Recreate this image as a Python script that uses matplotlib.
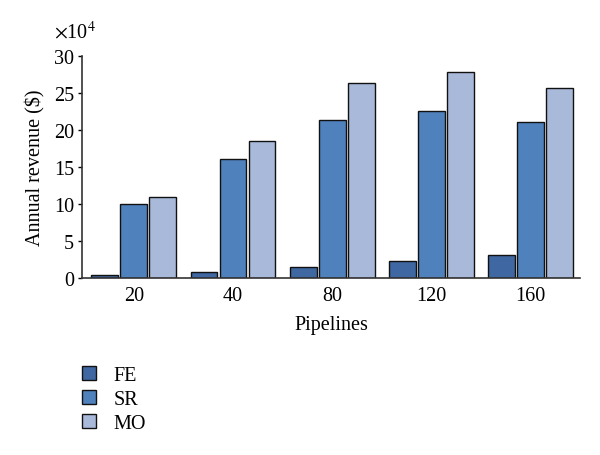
import numpy as np
import matplotlib
matplotlib.use('Agg')
import matplotlib.pyplot as plt
from matplotlib.patches import Patch

# data (x10^4 $)
pipelines = ['20', '40', '80', '120', '160']
fe = [0.4, 0.7, 1.5, 2.2, 3.0]
sr = [10.0, 16.0, 21.4, 22.5, 21.0]
mo = [10.9, 18.5, 26.3, 27.9, 25.7]
series_names = ['FE', 'SR', 'MO']
colors = ['#3f67a1', '#4f81bd', '#a9b9d9']

plt.rcParams['font.family'] = ['Liberation Serif', 'DejaVu Serif']
plt.rcParams['font.size'] = 14.5
plt.rcParams['mathtext.fontset'] = 'stix'

fig = plt.figure(figsize=(6, 4.56), dpi=100)
ax = fig.add_axes([0.137, 0.389, 0.830, 0.486])

x = np.arange(len(pipelines))
w = 0.27
step = 0.293
for i, (vals, c) in enumerate(zip([fe, sr, mo], colors)):
    ax.bar(x + (i - 1) * step, vals, width=w, color=c, edgecolor='#111111', linewidth=1.0)

ax.set_xlim(-0.52, 4.5)
ax.set_ylim(0, 30)
ax.set_yticks(range(0, 31, 5))
ax.set_xticks(x)
ax.set_xticklabels(pipelines)
ax.tick_params(axis='x', length=0, pad=6)
ax.tick_params(axis='y', length=3, width=1, direction='out', pad=3)
for s in ['top', 'right']:
    ax.spines[s].set_visible(False)
for s in ['left', 'bottom']:
    ax.spines[s].set_color('#333333')
    ax.spines[s].set_linewidth(1.2)

ax.set_ylabel('Annual revenue ($)', labelpad=6)
ax.set_xlabel('Pipelines', labelpad=7)
fig.text(0.09, 0.905, r'$\times$10$^4$', fontsize=14.5, ha='left', va='bottom')

handles = [Patch(facecolor=c, edgecolor='#111111', label=n) for n, c in zip(series_names, colors)]
fig.legend(handles=handles, loc='upper left', bbox_to_anchor=(82 / 600, 1 - 367 / 456),
           frameon=False, borderpad=0, borderaxespad=0,
           handlelength=0.7, handleheight=0.7, handletextpad=0.85,
           labelspacing=0.25, fontsize=14.5)

plt.savefig('out.png', dpi=100)
